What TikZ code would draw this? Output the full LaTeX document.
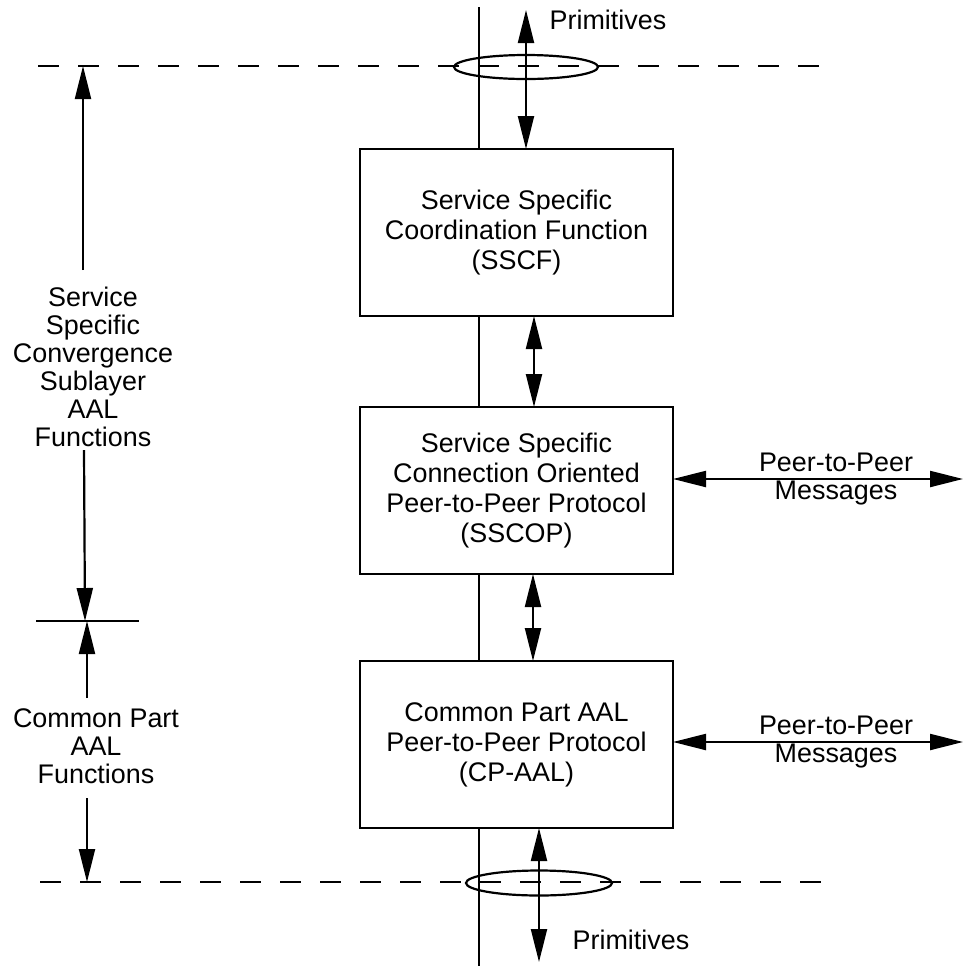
\documentclass[tikz,border=0pt]{standalone}
\usepackage{fontspec}
\setmainfont{Liberation Sans}
\usetikzlibrary{arrows.meta}
\tikzset{inner sep=0pt, outer sep=0pt}
\tikzset{
  layerbox/.style={draw, fill=white, line width=1.4pt, minimum width=156.5pt,
    minimum height=83.5pt, align=center, font=\fontsize{13.45}{15}\selectfont},
  lbl/.style={align=center, font=\fontsize{13.45}{14}\selectfont},
  oneway/.style={line width=1.1pt, -{Triangle[length=16.5pt,width=8pt]}},
  twoway/.style={line width=1.1pt,
    {Triangle[length=16.5pt,width=8pt]}-{Triangle[length=16.5pt,width=8pt]}},
  boundary/.style={line width=1.3pt, dash pattern=on 10.5pt off 9.5pt}
}

\begin{document}
\begin{tikzpicture}[x=0.5pt, y=-0.5pt]
\useasboundingbox (0,0) rectangle (964,966);

% sublayer boundaries
\draw[boundary] (38,66) -- (819,66);
\draw[boundary] (40,882) -- (825,882);

% the stack
\coordinate (vtop) at (479,7);
\coordinate (vbot) at (479,966);
\draw[line width=1.1pt] (vtop) -- (vbot);
\foreach \name/\ya/\txt in {
    sscf/232.5/{Service Specific\\Coordination Function\\(SSCF)},
    sscop/490.5/{Service Specific\\Connection Oriented\\Peer-to-Peer Protocol\\(SSCOP)},
    cpaal/744.5/{Common Part AAL\\Peer-to-Peer Protocol\\(CP-AAL)}} {
  \node[layerbox] (\name) at (516.5,\ya) {\txt};
} % end of \foreach \name

% primitives at the top and bottom
\coordinate (ptop) at (526,10);
\coordinate (pbot) at (539,962);
\draw[line width=1.1pt] (526,67) ellipse [x radius=36pt, y radius=6pt];
\draw[line width=1.1pt] (539,883) ellipse [x radius=36.5pt, y radius=6.25pt];
\draw[twoway] (ptop) -- (ptop |- sscf.north);
\draw[twoway] (cpaal.south -| pbot) -- (pbot);
\node[lbl] (primtop) at (608,20) {Primitives};
\node[lbl] (primbot) at (631,940) {Primitives};

% between the boxes
\draw[twoway] (sscf.south -| 534,0) -- (sscop.north -| 534,0);
\draw[twoway] (sscop.south -| 533,0) -- (cpaal.north -| 533,0);

% peer-to-peer messages
\foreach \src/\yy in {sscop/479, cpaal/742} {
  \coordinate (peer-\src) at (963,\yy);
  \draw[twoway] (\src.east |- peer-\src) -- (peer-\src);
  \node[lbl] (msg-\src) at (836,\yy) {Peer-to-Peer\\Messages};
} % end of \foreach \src

% extent of the sublayers
\coordinate (split) at (85,621);
\draw[line width=1.1pt] (36,621) -- (139,621);
\node[lbl] (sscs) at (93,367) {Service\\Specific\\Convergence\\Sublayer\\AAL\\Functions};
\coordinate (sscs-up) at (83,270);
\coordinate (sscs-dn) at (84,450);
\draw[oneway] (sscs-up) -- (83,66);
\draw[oneway] (sscs-dn) -- (split);
\node[lbl] (cpart) at (96,746) {Common Part\\AAL\\Functions};
\coordinate (cp-up) at (87,698);
\coordinate (cp-dn) at (87,798);
\draw[oneway] (cp-up) -- (split -| cp-up);
\draw[oneway] (cp-dn) -- (87,882);
\end{tikzpicture}
\end{document}
